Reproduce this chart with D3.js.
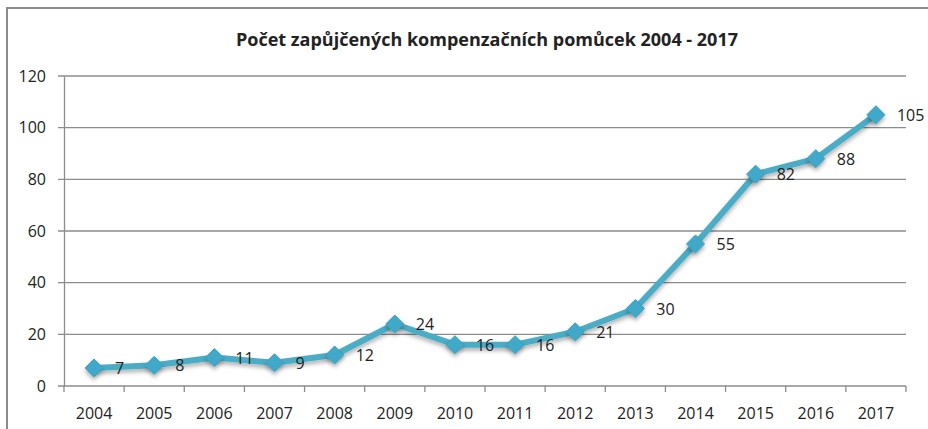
<!DOCTYPE html>
<html>
<head>
<meta charset="utf-8">
<script src="https://cdn.jsdelivr.net/npm/d3@7"></script>
<style>
  body { margin: 0; background: #fff; }
  text { font-family: "Liberation Sans Narrow", "Open Sans", sans-serif; fill: #222; }
</style>
</head>
<body>
<div id="chart"></div>
<script>
// pocet zapujcenych pomucek po letech
var years = ["2004", "2005", "2006", "2007", "2008", "2009", "2010", "2011", "2012", "2013", "2014", "2015", "2016", "2017"];
var counts = [7, 8, 11, 9, 12, 24, 16, 16, 21, 30, 55, 82, 88, 105];
var yTicks = [0, 20, 40, 60, 80, 100, 120];

var svgWidth = 928;
var svgHeight = 429;

var margin = { top: 76, right: 22, bottom: 43, left: 64 };
var width = svgWidth - margin.left - margin.right;
var height = svgHeight - margin.top - margin.bottom;

var svg = d3.select("#chart")
  .append("svg")
  .attr("width", svgWidth)
  .attr("height", svgHeight);

// frame of the chart area
svg.append("path")
  .attr("d", "M7,429 V8 H928")
  .attr("fill", "none")
  .attr("stroke", "#8c8c8c")
  .attr("stroke-width", 2);

svg.append("text")
  .attr("x", 487)
  .attr("y", 46)
  .attr("text-anchor", "middle")
  .attr("font-size", "18px")
  .attr("font-weight", "bold")
  .text("Počet zapůjčených kompenzačních pomůcek 2004 - 2017");

var chartGroup = svg.append("g")
  .attr("transform", `translate(${margin.left}, ${margin.top})`);

var xScale = d3.scaleBand()
  .domain(years)
  .range([0, width]);

var yScale = d3.scaleLinear()
  .domain([0, 120])
  .range([height, 0]);

// gridlines
chartGroup.append("g")
  .selectAll("line")
  .data(yTicks)
  .enter()
  .append("line")
  .attr("x1", -6)
  .attr("x2", width)
  .attr("y1", d => yScale(d))
  .attr("y2", d => yScale(d))
  .attr("stroke", "#8c8c8c")
  .attr("stroke-width", 1.3);

// y axis
var leftAxis = d3.axisLeft(yScale)
  .tickValues(yTicks)
  .tickSize(0)
  .tickPadding(18);

var yAxis = chartGroup.append("g").call(leftAxis);
yAxis.select(".domain").attr("stroke", "#8c8c8c").attr("stroke-width", 1.3);
yAxis.selectAll("text").attr("font-size", "16px").attr("fill", "#222");

// x axis with ticks on category boundaries
var xAxis = chartGroup.append("g")
  .attr("transform", `translate(0, ${height})`);

xAxis.selectAll(".tk")
  .data(years.concat(["end"]))
  .enter()
  .append("line")
  .attr("x1", (d, i) => i * xScale.step())
  .attr("x2", (d, i) => i * xScale.step())
  .attr("y1", 0)
  .attr("y2", 6)
  .attr("stroke", "#8c8c8c")
  .attr("stroke-width", 1.3);

xAxis.selectAll(".lbl")
  .data(years)
  .enter()
  .append("text")
  .attr("x", d => xScale(d) + xScale.bandwidth() / 2)
  .attr("y", 33)
  .attr("text-anchor", "middle")
  .attr("font-size", "16px")
  .text(d => d);

var pts = years.map((y, i) => ({ year: y, value: counts[i] }));

var line = d3.line()
  .x(d => xScale(d.year) + xScale.bandwidth() / 2)
  .y(d => yScale(d.value));

// soft shadow
var defs = svg.append("defs");
var f = defs.append("filter").attr("id", "shadow").attr("x", "-20%").attr("y", "-20%").attr("width", "140%").attr("height", "160%");
f.append("feDropShadow").attr("dx", 0).attr("dy", 3).attr("stdDeviation", 2).attr("flood-color", "#000").attr("flood-opacity", 0.3);

chartGroup.append("path")
  .datum(pts)
  .attr("d", line)
  .attr("fill", "none")
  .attr("stroke", "#4bacc6")
  .attr("stroke-width", 6)
  .attr("stroke-linejoin", "round")
  .attr("filter", "url(#shadow)");

chartGroup.selectAll(".mk")
  .data(pts)
  .enter()
  .append("path")
  .attr("d", "M0,-9 L9,0 L0,9 L-9,0 Z")
  .attr("transform", d => `translate(${xScale(d.year) + xScale.bandwidth() / 2}, ${yScale(d.value)})`)
  .attr("fill", "#3fa8c8")
  .attr("stroke", "#3aa0bf")
  .attr("stroke-width", 1)
  .attr("filter", "url(#shadow)");

chartGroup.selectAll(".val")
  .data(pts)
  .enter()
  .append("text")
  .attr("x", d => xScale(d.year) + xScale.bandwidth() / 2 + 21)
  .attr("y", d => yScale(d.value) + 6)
  .attr("font-size", "16px")
  .text(d => d.value);
</script>
</body>
</html>
